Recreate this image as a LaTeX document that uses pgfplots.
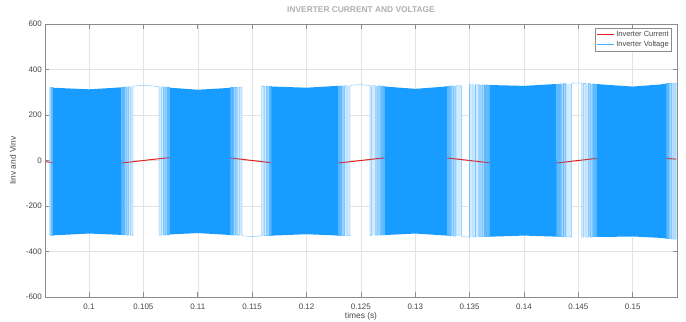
\documentclass[border=0pt]{standalone}
\usepackage{fontspec}
\setmainfont{Liberation Sans}
\usepackage{pgfplots}
\pgfplotsset{compat=1.18}
\definecolor{vfill}{RGB}{24,156,255}
\definecolor{vline}{RGB}{70,175,255}
\definecolor{iline}{RGB}{228,32,32}
\definecolor{axgray}{RGB}{140,140,140}
\definecolor{txtgray}{RGB}{70,70,70}
\definecolor{titlegray}{RGB}{175,175,175}
\colorlet{Lone}{vfill!20}
\colorlet{Ltwo}{vfill!40}
\colorlet{Lthree}{vfill!65}
\newcommand{\strip}[5]{\addplot[draw=none,fill=#1,forget plot] coordinates {(#2,#4) (#3,#4) (#3,#5) (#2,#5)};}
\begin{document}
\begin{tikzpicture}
\path[use as bounding box] (-45bp,-25bp) rectangle (641bp,297bp);
\begin{axis}[
 at={(0,0)}, anchor=south west, scale only axis, width=632bp, height=273bp,
 xmin=0.09595, xmax=0.15407, ymin=-600, ymax=600,
 xtick={0.1,0.105,0.11,0.115,0.12,0.125,0.13,0.135,0.14,0.145,0.15},
 xticklabels={0.1,0.105,0.11,0.115,0.12,0.125,0.13,0.135,0.14,0.145,0.15},
 ytick={-600,-400,-200,0,200,400,600},
 yticklabels={-600,-400,-200,0,200,400,600},
 grid=major, major grid style={line width=0.5pt, draw=black!11},
 axis line style={draw=axgray, line width=0.8pt},
 major tick length=4.5bp, tick style={draw=axgray, line width=0.6pt},
 tick label style={font=\fontsize{8}{9}\selectfont, text=txtgray},
 xticklabel style={anchor=base, inner sep=0pt, yshift=-12.5bp},
 yticklabel style={anchor=base east, inner sep=0pt, xshift=-3bp, yshift=-2.9bp},
 title={INVERTER CURRENT AND VOLTAGE},
 title style={at={(0.5,1)}, anchor=base, inner sep=0pt, yshift=5.3bp, font=\bfseries\fontsize{8.4}{10}\selectfont, text=titlegray},
 xlabel={times (s)},
 xlabel style={at={(axis description cs:0.5,0)}, anchor=base, inner sep=0pt, yshift=-21bp, font=\fontsize{8.4}{10}\selectfont, text=txtgray},
 ylabel={Iinv and Vinv},
 ylabel style={at={(axis description cs:-0.046,0.5)}, anchor=base, inner sep=0pt, font=\fontsize{8.4}{10}\selectfont, text=txtgray},
 legend style={at={(0.992,0.985)}, anchor=north east, draw=black!45, line width=0.5pt, font=\fontsize{7.5}{8.5}\selectfont, text=txtgray, inner sep=1pt, row sep=-1pt, fill=white},
 legend cell align=left,
]
% sparse switching zones (graded, drawn first so the current shows through)
\strip{Lone}{0.0964}{0.09652}{321}{-330}
\strip{Ltwo}{0.09652}{0.09661}{321}{-330}
\strip{Lthree}{0.09661}{0.0967}{321}{-330}
\strip{Lone}{0.10363}{0.10405}{323}{-327}
\strip{Ltwo}{0.103315}{0.10363}{323}{-327}
\strip{Lthree}{0.1030}{0.103315}{323}{-327}
\strip{Lone}{0.10644}{0.10684}{323}{-327}
\strip{Ltwo}{0.10684}{0.107147}{323}{-327}
\strip{Lthree}{0.107147}{0.10745}{323}{-327}
\strip{Lone}{0.11364}{0.11407}{321}{-329}
\strip{Ltwo}{0.113321}{0.11364}{321}{-329}
\strip{Lthree}{0.1130}{0.113321}{321}{-329}
\strip{Lone}{0.11588}{0.11625}{326}{-331}
\strip{Ltwo}{0.11625}{0.11652}{326}{-331}
\strip{Lthree}{0.11652}{0.1168}{326}{-331}
\strip{Lone}{0.12356}{0.1240}{329}{-330}
\strip{Ltwo}{0.12323}{0.12356}{329}{-330}
\strip{Lthree}{0.1229}{0.12323}{329}{-330}
\strip{Lone}{0.12584}{0.12639}{327}{-329}
\strip{Ltwo}{0.12639}{0.12681}{327}{-329}
\strip{Lthree}{0.12681}{0.12722}{327}{-329}
\strip{Lone}{0.13372}{0.13427}{327}{-332}
\strip{Ltwo}{0.13331}{0.13372}{327}{-332}
\strip{Lthree}{0.1329}{0.13331}{327}{-332}
\strip{Lone}{0.1350}{0.13575}{333}{-335}
\strip{Ltwo}{0.13575}{0.13632}{333}{-335}
\strip{Lthree}{0.13632}{0.13688}{333}{-335}
\strip{Lone}{0.14383}{0.14439}{337}{-335}
\strip{Ltwo}{0.14342}{0.14383}{337}{-335}
\strip{Lthree}{0.143}{0.14342}{337}{-335}
\strip{Lone}{0.14531}{0.14587}{337}{-336}
\strip{Ltwo}{0.14587}{0.1463}{337}{-336}
\strip{Lthree}{0.1463}{0.14672}{337}{-336}
\strip{Lone}{0.15364}{0.15407}{339}{-344}
\strip{Ltwo}{0.15337}{0.15364}{339}{-344}
\strip{Lthree}{0.1531}{0.15337}{339}{-344}
% Inverter current
\addplot[iline, line width=1pt] coordinates {
(0.096,-5.56) (0.097,-10.58) (0.098,-14.56) (0.099,-17.12) (0.100,-18) (0.101,-17.12) (0.102,-14.56) (0.103,-10.58) (0.104,-5.56)
(0.105,0) (0.106,5.56) (0.107,10.58) (0.108,14.56) (0.109,17.12) (0.110,18) (0.111,17.12) (0.112,14.56) (0.113,10.58) (0.114,5.56)
(0.115,0) (0.116,-5.56) (0.117,-10.58) (0.118,-14.56) (0.119,-17.12) (0.120,-18) (0.121,-17.12) (0.122,-14.56) (0.123,-10.58) (0.124,-5.56)
(0.125,0) (0.126,5.56) (0.127,10.58) (0.128,14.56) (0.129,17.12) (0.130,18) (0.131,17.12) (0.132,14.56) (0.133,10.58) (0.134,5.56)
(0.135,0) (0.136,-5.56) (0.137,-10.58) (0.138,-14.56) (0.139,-17.12) (0.140,-18) (0.141,-17.12) (0.142,-14.56) (0.143,-10.58) (0.144,-5.56)
(0.145,0) (0.146,5.56) (0.147,10.58) (0.148,14.56) (0.149,17.12) (0.150,18) (0.151,17.12) (0.152,14.56) (0.153,10.58) (0.154,5.56)
};
\addlegendentry{Inverter Current}
% Inverter voltage (switching edges around the sparse regions)
\addplot[vline, line width=0.3pt] coordinates {
(0.0964,-330) (0.0964,321) (0.0965,321) (0.0965,-330) (0.09658,-330) (0.09658,321) (0.09664,321) (0.09664,-330) (0.0967,-330) (0.0967,0) (0.1030,0)
(0.1030,-327) (0.10308,-327) (0.10308,323) (0.10318,323) (0.10318,-327) (0.1033,-327) (0.1033,324) (0.10345,324) (0.10345,-328) (0.10362,-328) (0.10362,325) (0.10382,325) (0.10382,-328) (0.10405,-328) (0.10405,327) (0.105,330) (0.106,327) (0.10644,325)
(0.10644,-329) (0.10668,-329) (0.10668,324) (0.10688,324) (0.10688,-328) (0.10705,-328) (0.10705,323) (0.10718,323) (0.10718,-327) (0.1073,-327) (0.1073,322) (0.1074,322) (0.1074,-326) (0.10745,-326) (0.10745,0) (0.1130,0)
(0.1130,320) (0.11308,320) (0.11308,-328) (0.11318,-328) (0.11318,321) (0.1133,321) (0.1133,-329) (0.11345,-329) (0.11345,322) (0.11362,322) (0.11362,-330) (0.11382,-330) (0.11382,323) (0.11407,323) (0.11407,-331) (0.115,-334) (0.11588,-331)
(0.11588,327) (0.1161,327) (0.1161,-331) (0.1163,-331) (0.1163,326) (0.11645,326) (0.11645,-331) (0.11658,-331) (0.11658,325) (0.1167,325) (0.1167,-330) (0.11677,-330) (0.11677,325) (0.1168,325) (0.1168,0) (0.1229,0)
(0.1229,-330) (0.12298,-330) (0.12298,328) (0.12308,328) (0.12308,-330) (0.1232,-330) (0.1232,329) (0.12335,329) (0.12335,-331) (0.12352,-331) (0.12352,330) (0.12372,330) (0.12372,-331) (0.1240,-331) (0.1240,331) (0.125,333) (0.12584,330)
(0.12584,-331) (0.1260,-331) (0.1260,329) (0.12635,329) (0.12635,-330) (0.12658,-330) (0.12658,328) (0.12677,328) (0.12677,-329) (0.12692,-329) (0.12692,327) (0.12705,327) (0.12705,-329) (0.12715,-329) (0.12715,326) (0.12722,326) (0.12722,0) (0.1329,0)
(0.1329,326) (0.13298,326) (0.13298,-331) (0.13308,-331) (0.13308,327) (0.1332,327) (0.1332,-332) (0.13335,-332) (0.13335,328) (0.13352,328) (0.13352,-333) (0.13375,-333) (0.13375,329) (0.13427,329) (0.13427,-335) (0.135,-337)
(0.1350,-337) (0.1350,334) (0.13531,334) (0.13531,-336) (0.13555,-336) (0.13555,334) (0.13595,334) (0.13595,-336) (0.1362,-336) (0.1362,333) (0.1364,333) (0.1364,-335) (0.13655,-335) (0.13655,333) (0.13668,333) (0.13668,-335) (0.13678,-335) (0.13678,332) (0.13685,332) (0.13685,-335) (0.13688,-335) (0.13688,0) (0.143,0)
(0.143,-335) (0.14308,-335) (0.14308,336) (0.14318,336) (0.14318,-335) (0.1433,-335) (0.1433,337) (0.14345,337) (0.14345,-336) (0.14362,-336) (0.14362,338) (0.14385,338) (0.14385,-336) (0.14439,-336) (0.14439,340) (0.145,341) (0.14531,340)
(0.14531,-337) (0.14545,-337) (0.14545,339) (0.1457,339) (0.1457,-337) (0.1459,-337) (0.1459,338) (0.14612,338) (0.14612,-337) (0.1463,-337) (0.1463,337) (0.14645,337) (0.14645,-336) (0.14657,-336) (0.14657,336) (0.14666,336) (0.14666,-336) (0.14672,-336) (0.14672,0) (0.1531,0)
(0.1531,-343) (0.15318,-343) (0.15318,338) (0.15328,338) (0.15328,-344) (0.1534,-344) (0.1534,339) (0.15355,339) (0.15355,-345) (0.1537,-345) (0.1537,340) (0.1538,340) (0.1538,-346) (0.15395,-346) (0.15395,341) (0.154,342)
};
\addlegendentry{Inverter Voltage}
% dense switching blocks (envelope fills)
\addplot[draw=none, fill=vfill, forget plot] coordinates {(0.0967,320) (0.098,317) (0.1,313) (0.1025,320) (0.103,322) (0.103,-327) (0.1025,-326) (0.1,-321) (0.098,-326) (0.0967,-329)};
\addplot[draw=none, fill=vfill, forget plot] coordinates {(0.10745,320) (0.11,311) (0.1125,318) (0.113,320) (0.113,-328) (0.1125,-326) (0.11,-319) (0.10745,-325)};
\addplot[draw=none, fill=vfill, forget plot] coordinates {(0.1168,325) (0.1175,324) (0.12,320) (0.1225,327) (0.1229,328) (0.1229,-330) (0.1225,-329) (0.12,-324) (0.1175,-329) (0.1168,-330)};
\addplot[draw=none, fill=vfill, forget plot] coordinates {(0.12722,325) (0.1275,324) (0.13,315) (0.1325,324) (0.1329,326) (0.1329,-330) (0.1325,-329) (0.13,-321) (0.1275,-327) (0.12722,-328)};
\addplot[draw=none, fill=vfill, forget plot] coordinates {(0.13688,332) (0.1375,331) (0.14,328) (0.1425,335) (0.143,336) (0.143,-335) (0.1425,-334) (0.14,-330) (0.1375,-334) (0.13688,-335)};
\addplot[draw=none, fill=vfill, forget plot] coordinates {(0.14672,336) (0.1475,333) (0.15,325) (0.1525,334) (0.1531,338) (0.1531,-343) (0.1525,-340) (0.15,-334) (0.1475,-336) (0.14672,-336)};
\end{axis}
\end{tikzpicture}
\end{document}
